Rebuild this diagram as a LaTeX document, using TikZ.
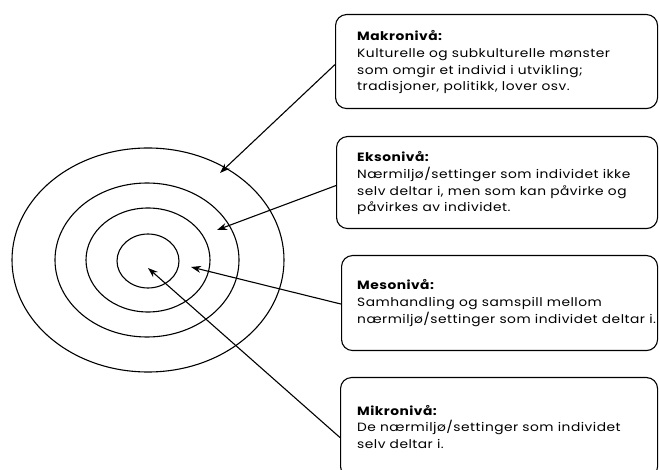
\documentclass[tikz,border=0pt]{standalone}
\usepackage{fontspec}
\setmainfont{Poppins}[FakeStretch=1.15, LetterSpace=4]
\usetikzlibrary{arrows.meta}
\tikzset{
  ring/.style={draw, line width=1.1pt},
  box/.style={draw, line width=1.1pt, rounded corners=11pt, anchor=north west, inner sep=0pt},
  txt/.style={anchor=base west, align=left, inner sep=0pt, font=\fontsize{12}{16.6}\selectfont},
  arr/.style={line width=1.1pt, -{Stealth[length=10pt,width=7pt]}}
}
\begin{document}
\begin{tikzpicture}[x=1pt,y=-1pt]
\useasboundingbox (0,0) rectangle (659,470);
% rings
\draw[ring] (148,260) ellipse [x radius=136, y radius=112];
\draw[ring] (147,260) ellipse [x radius=92, y radius=77];
\draw[ring] (148,260) ellipse [x radius=62, y radius=52];
\draw[ring] (148,261) ellipse [x radius=31, y radius=27];
\coordinate (tmakro) at (220,173);
\coordinate (tekso) at (217,230);
\coordinate (tmeso) at (191,267);
\coordinate (tmikro) at (148,268);
% boxes
\node[box, minimum width=322pt, minimum height=94pt] (makro) at (335,14) {};
\node[box, minimum width=321pt, minimum height=92pt] (ekso) at (336,136) {};
\node[box, minimum width=316pt, minimum height=95pt] (meso) at (341,255) {};
\node[box, minimum width=317pt, minimum height=100pt] (mikro) at (340,377) {};
% texts (anchored at the baseline of the last line)
\node[txt] (makrotxt) at (357,90.8) {\textbf{Makronivå:}\\Kulturelle og subkulturelle mønster\\som omgir et individ i utvikling;\\tradisjoner, politikk, lover osv.};
\node[txt] (eksotxt) at (357,211.8) {\textbf{Eksonivå:}\\Nærmiljø/settinger som individet ikke\\selv deltar i, men som kan påvirke og\\påvirkes av individet.};
\node[txt] (mesotxt) at (357,323.2) {\textbf{Mesonivå:}\\Samhandling og samspill mellom\\nærmiljø/settinger som individet deltar i.};
\node[txt] (mikrotxt) at (357,448.2) {\textbf{Mikronivå:}\\De nærmiljø/settinger som individet\\selv deltar i.};
% arrows
\draw[arr] ([yshift=-3pt]makro.west) -- (tmakro);
\draw[arr] ([yshift=-3pt]ekso.west) -- (tekso);
\draw[arr] ([yshift=-1pt]meso.west) -- (tmeso);
\draw[arr] ([yshift=-10pt]mikro.west) -- (tmikro);
\end{tikzpicture}
\end{document}
